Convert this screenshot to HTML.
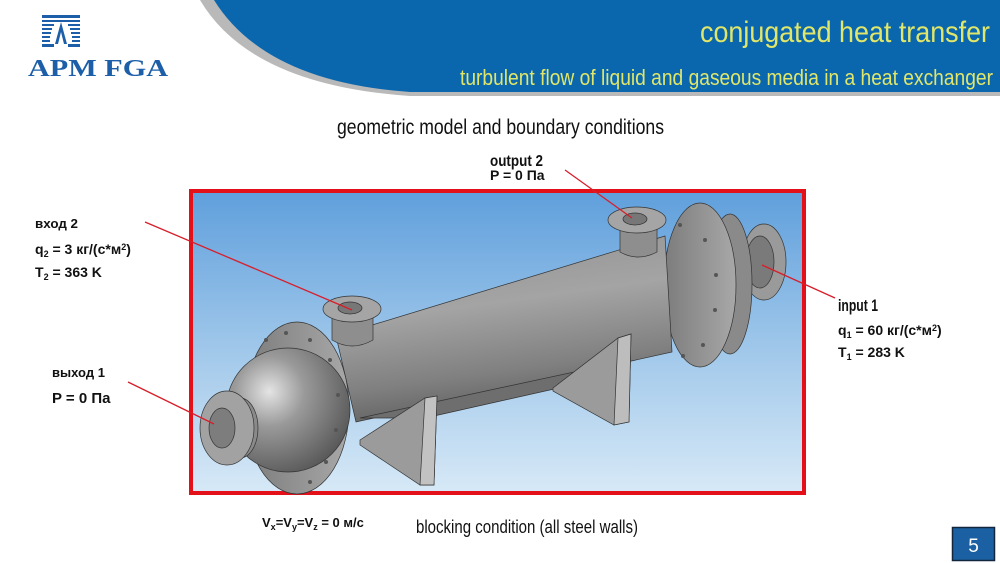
<!DOCTYPE html>
<html><head><meta charset="utf-8"><style>
html,body{margin:0;padding:0;background:#fff;}
svg{display:block;}
</style></head><body>
<svg width="1000" height="563" viewBox="0 0 1000 563" xmlns="http://www.w3.org/2000/svg">
<defs>
<linearGradient id="bg" x1="0" y1="0" x2="0" y2="1">
<stop offset="0" stop-color="#5f9fdc"/><stop offset="0.6" stop-color="#a9cdec"/><stop offset="1" stop-color="#d7e9f7"/>
</linearGradient>
<linearGradient id="shell" x1="0" y1="0" x2="0.25" y2="1">
<stop offset="0" stop-color="#909090"/><stop offset="0.45" stop-color="#a4a4a4"/><stop offset="0.8" stop-color="#808080"/><stop offset="1" stop-color="#626262"/>
</linearGradient>
<radialGradient id="dome" cx="0.35" cy="0.35" r="0.7">
<stop offset="0" stop-color="#e4e4e4"/><stop offset="0.4" stop-color="#9a9a9a"/><stop offset="1" stop-color="#5a5a5a"/>
</radialGradient>
<linearGradient id="fl" x1="0" y1="0" x2="1" y2="0">
<stop offset="0" stop-color="#7c7c7c"/><stop offset="1" stop-color="#a8a8a8"/>
</linearGradient>
</defs>

<path d="M200,0 Q250,85 410,96 L1000,96 L1000,0 Z" fill="#b9b9b9"/>
<path d="M214,0 Q265,82 410,92 L1000,92 L1000,0 Z" fill="#0a66ad"/>
<g fill="#1c5fa8">
<rect x="42" y="15" width="38" height="3"/><rect x="42" y="20" width="38" height="2"/>
<rect x="42" y="24" width="12" height="2"/><rect x="68" y="24" width="12" height="2"/>
<rect x="42" y="28" width="10" height="2"/><rect x="70" y="28" width="10" height="2"/>
<rect x="42" y="32" width="9" height="2"/><rect x="71" y="32" width="9" height="2"/>
<rect x="42" y="36" width="8" height="2"/><rect x="72" y="36" width="8" height="2"/>
<rect x="42" y="40" width="8" height="2"/><rect x="72" y="40" width="8" height="2"/>
<rect x="42" y="44" width="12" height="3"/><rect x="68" y="44" width="12" height="3"/>
<path d="M61,22 L55,44 L58,44 L61,32 L64,44 L67,44 Z"/>
</g>
<text x="28" y="76" font-family="Liberation Serif, serif" font-weight="bold" font-size="24" fill="#1c5fa8" textLength="140" lengthAdjust="spacingAndGlyphs">APM FGA</text>
<text x="700" y="42" font-family="Liberation Sans Narrow, Liberation Sans, sans-serif" font-size="30" fill="#dfe66a" textLength="290" lengthAdjust="spacingAndGlyphs">conjugated heat transfer</text>
<text x="460" y="85" font-family="Liberation Sans Narrow, Liberation Sans, sans-serif" font-size="22" fill="#dfe66a" textLength="533" lengthAdjust="spacingAndGlyphs">turbulent flow of liquid and gaseous media in a heat exchanger</text>

<text x="337" y="134" font-family="Liberation Sans Narrow, Liberation Sans, sans-serif" font-size="21" fill="#111" textLength="327" lengthAdjust="spacingAndGlyphs">geometric model and boundary conditions</text>

<rect x="191" y="191" width="613" height="302" fill="url(#bg)" stroke="#e3101a" stroke-width="4"/>

<g stroke="#333" stroke-width="0.7">
<ellipse cx="764" cy="262" rx="22" ry="38" fill="#9a9a9a"/>
<ellipse cx="760" cy="262" rx="14" ry="26" fill="#7a7a7a"/>
<ellipse cx="730" cy="284" rx="22" ry="70" fill="#8a8a8a"/>
<ellipse cx="700" cy="285" rx="36" ry="82" fill="url(#fl)"/>
<path d="M336,336 L665,236 L672,352 L356,422 Z" fill="url(#shell)"/>
<path d="M360,418 L630,360 L630,372 L425,418 Z" fill="#6e6e6e"/>
<path d="M620,222 L657,222 L657,252 Q638,262 620,252 Z" fill="#8e8e8e"/>
<ellipse cx="637" cy="220" rx="29" ry="13" fill="#a5a5a5"/>
<ellipse cx="635" cy="219" rx="12" ry="6" fill="#777"/>
<path d="M553,388 L618,338 L631,334 L629,422 L614,425 L553,391 Z" fill="#9b9b9b"/>
<path d="M618,338 L631,334 L629,422 L614,425 Z" fill="#bdbdbd"/>
<path d="M360,440 L425,398 L437,396 L434,485 L420,485 L360,445 Z" fill="#9b9b9b"/>
<path d="M425,398 L437,396 L434,485 L420,485 Z" fill="#c2c2c2"/>
<path d="M332,312 L373,312 L373,340 Q352,352 332,340 Z" fill="#8e8e8e"/>
<ellipse cx="352" cy="309" rx="29" ry="13" fill="#a5a5a5"/>
<ellipse cx="350" cy="308" rx="12" ry="6" fill="#777"/>
<ellipse cx="297" cy="408" rx="52" ry="86" fill="url(#fl)"/>
<ellipse cx="288" cy="410" rx="62" ry="62" fill="url(#dome)"/>
<ellipse cx="240" cy="428" rx="18" ry="30" fill="#8a8a8a"/>
<ellipse cx="227" cy="428" rx="27" ry="37" fill="#a2a2a2"/>
<ellipse cx="222" cy="428" rx="13" ry="20" fill="#7d7d7d"/>
</g>
<g fill="#555">
<circle cx="266" cy="340" r="2"/><circle cx="286" cy="333" r="2"/><circle cx="310" cy="340" r="2"/><circle cx="330" cy="360" r="2"/><circle cx="338" cy="395" r="2"/><circle cx="336" cy="430" r="2"/><circle cx="326" cy="462" r="2"/><circle cx="310" cy="482" r="2"/>
<circle cx="680" cy="225" r="2"/><circle cx="705" cy="240" r="2"/><circle cx="716" cy="275" r="2"/><circle cx="715" cy="310" r="2"/><circle cx="703" cy="345" r="2"/><circle cx="683" cy="356" r="2"/>
</g>

<g stroke="#d81e2a" stroke-width="1.3">
<line x1="145" y1="222" x2="352" y2="310"/>
<line x1="565" y1="170" x2="632" y2="218"/>
<line x1="835" y1="298" x2="762" y2="265"/>
<line x1="128" y1="382" x2="214" y2="424"/>
</g>

<g font-family="Liberation Sans, sans-serif" font-weight="bold" fill="#111">
<text x="490" y="166" font-size="16" textLength="53" lengthAdjust="spacingAndGlyphs">output 2</text>
<text x="490" y="180" font-size="14">P = 0 Па</text>
<text x="35" y="228" font-size="13" textLength="43" lengthAdjust="spacingAndGlyphs">вход 2</text>
<text x="35" y="254" font-size="14">q<tspan font-size="9" dy="3">2</tspan><tspan dy="-3"> = 3 кг/(с*м</tspan><tspan font-size="9" dy="-4">2</tspan><tspan dy="4">)</tspan></text>
<text x="35" y="277" font-size="14">T<tspan font-size="9" dy="3">2</tspan><tspan dy="-3"> = 363 K</tspan></text>
<text x="52" y="377" font-size="13" textLength="53" lengthAdjust="spacingAndGlyphs">выход 1</text>
<text x="52" y="403" font-size="15">P = 0 Па</text>
<text x="838" y="311" font-size="17" textLength="40" lengthAdjust="spacingAndGlyphs">input 1</text>
<text x="838" y="335" font-size="14">q<tspan font-size="9" dy="3">1</tspan><tspan dy="-3"> = 60 кг/(с*м</tspan><tspan font-size="9" dy="-4">2</tspan><tspan dy="4">)</tspan></text>
<text x="838" y="357" font-size="14">T<tspan font-size="9" dy="3">1</tspan><tspan dy="-3"> = 283 K</tspan></text>
<text x="262" y="527" font-size="13">V<tspan font-size="9" dy="3">x</tspan><tspan dy="-3">=V</tspan><tspan font-size="9" dy="3">y</tspan><tspan dy="-3">=V</tspan><tspan font-size="9" dy="3">z</tspan><tspan dy="-3"> = 0 м/с</tspan></text>
</g>
<text x="416" y="533" font-family="Liberation Sans Narrow, Liberation Sans, sans-serif" font-size="18" fill="#111" textLength="222" lengthAdjust="spacingAndGlyphs">blocking condition (all steel walls)</text>

<rect x="952.5" y="527.5" width="42" height="33" fill="#1a60a2" stroke="#12263d" stroke-width="1.5"/>
<text x="973.5" y="552" text-anchor="middle" font-family="Liberation Sans, sans-serif" font-size="19" fill="#fff">5</text>
</svg>
</body></html>
